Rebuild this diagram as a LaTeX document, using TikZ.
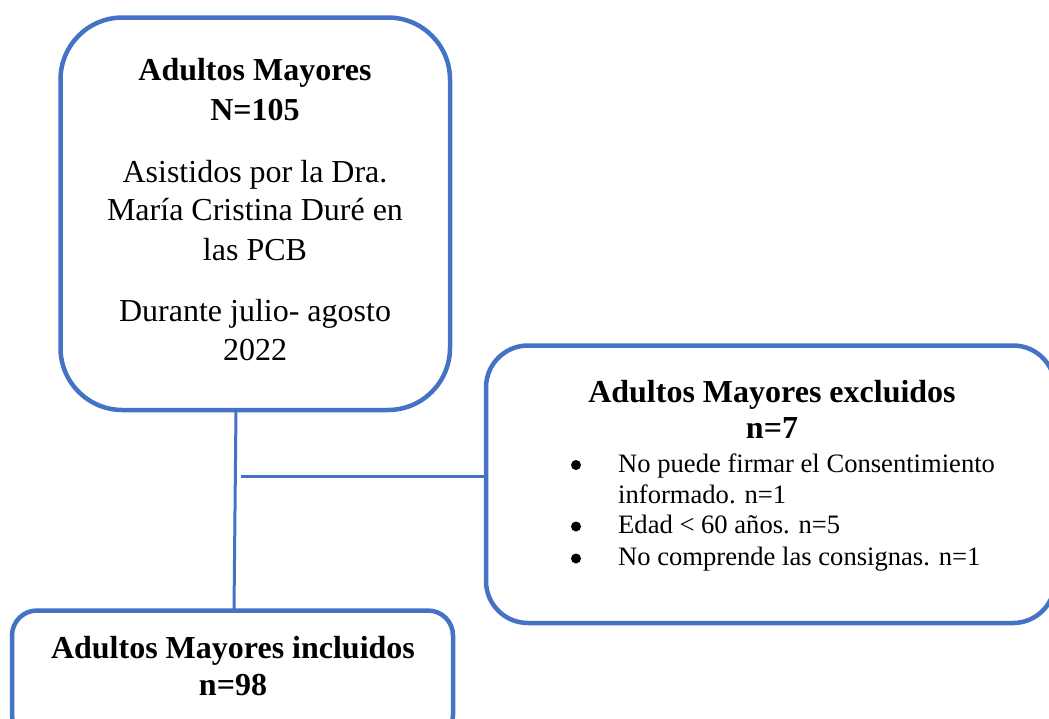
\documentclass[tikz,border=0pt]{standalone}
\usepackage{fontspec}
\setmainfont{Liberation Serif}
\definecolor{boxblue}{RGB}{68,114,196}
\begin{document}
\begin{tikzpicture}[x=1pt,y=-1pt,
  box/.style={draw=boxblue,line width=4.5pt,fill=none,inner sep=0pt,outer sep=0pt},
  link/.style={draw=boxblue,line width=3pt},
  big/.style={font=\fontsize{32}{39}\selectfont,inner sep=0pt,anchor=base},
  bigb/.style={font=\fontsize{32}{39}\selectfont\bfseries,inner sep=0pt,anchor=base},
  itm/.style={font=\fontsize{26.6}{31}\selectfont,inner sep=0pt,anchor=base west},
  bul/.style={circle,fill=black,inner sep=0pt,minimum size=10pt}]
\useasboundingbox (0,0) rectangle (1049,718);
% boxes
\node[box,rounded corners=62pt,minimum width=389.5pt,minimum height=392.5pt] (top) at (255.25,213.75) {};
\node[box,rounded corners=42pt,minimum width=569pt,minimum height=277.5pt] (excl) at (770.5,484.25) {};
\node[box,rounded corners=25pt,minimum width=441pt,minimum height=129.5pt] (incl) at (232.5,675.25) {};
% connectors
\draw[link] ([xshift=-19.25pt]top.south) -- ([xshift=1.5pt]incl.north);
\coordinate (hj) at (241,476.5);
\draw[link] (hj) -- (hj -| excl.west);
% top box text
\node[bigb] (t1) at (255,80) {Adultos Mayores};
\node[bigb] (t2) at (255,120) {N=105};
\node[big] (t3) at (255,182) {Asistidos por la Dra.};
\node[big] (t4) at (255,220) {María Cristina Duré en};
\node[big] (t5) at (255,260) {las PCB};
\node[big] (t6) at (255,321) {Durante julio- agosto};
\node[big] (t7) at (255,360) {2022};
% excluded box text
\node[bigb] (e1) at (772,402) {Adultos Mayores excluidos};
\node[bigb] (e2) at (772,438) {n=7};
\node[bul] (b1) at (576,465) {};
\node[bul] (b2) at (576,526.5) {};
\node[bul] (b3) at (576,558.5) {};
\node[itm] (i1) at (618,472.5) {No puede firmar el Consentimiento};
\node[itm] (i1b) at (618,503) {informado. n=1};
\node[itm] (i2) at (618,533.5) {Edad < 60 años. n=5};
\node[itm] (i3) at (618,565.5) {No comprende las consignas. n=1};
% included box text
\node[bigb] (n1) at (233,658) {Adultos Mayores incluidos};
\node[bigb] (n2) at (233,695) {n=98};
\end{tikzpicture}
\end{document}
